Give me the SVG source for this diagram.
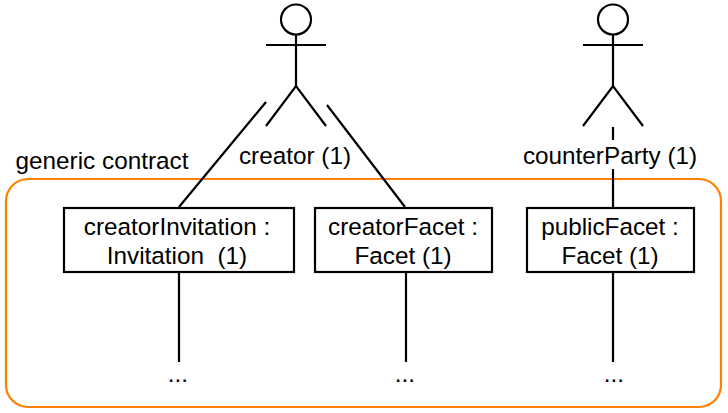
<svg xmlns="http://www.w3.org/2000/svg" width="728" height="413" viewBox="0 0 728 413">
<style>
.l{fill:none;stroke:#000;stroke-width:2.200;stroke-linecap:butt}
.b{fill:#fff;stroke:#000;stroke-width:2.200}
text{font-family:"Liberation Sans",Arial,sans-serif;font-size:24.300px;fill:#000;text-anchor:middle}
</style>
<defs>
<g id="actor">
<circle cx="0" cy="19.500" r="15" class="l"/>
<path class="l" d="M0 35V86M-30 45H30M-30 126L0 86L30 126"/>
</g>
</defs>
<g id="contract">
<rect x="6" y="179" width="715" height="228" rx="22" ry="22" fill="none" stroke="#ff8000" stroke-width="2.200"/>
<text x="102" y="169">generic contract</text>
</g>
<g id="connectors">
<path class="l" d="M266 102L179 207M327 105L405 207M613 127V140M613 169V207M179 272V362M406 272V362M613 272V362"/>
</g>
<g id="creator">
<use href="#actor" x="296" y="0"/>
<text x="295" y="164">creator (1)</text>
</g>
<g id="counterParty">
<use href="#actor" x="613" y="0"/>
<text x="610" y="164">counterParty (1)</text>
</g>
<g id="creatorInvitation">
<rect class="b" x="64" y="208" width="230" height="64"/>
<text x="177" y="235">creatorInvitation :</text>
<text x="177" y="264" xml:space="preserve">Invitation  (1)</text>
</g>
<g id="creatorFacet">
<rect class="b" x="315" y="208" width="177" height="64"/>
<text x="403" y="235">creatorFacet :</text>
<text x="403" y="264">Facet (1)</text>
</g>
<g id="publicFacet">
<rect class="b" x="527" y="208" width="167" height="64"/>
<text x="610" y="235">publicFacet :</text>
<text x="610" y="264">Facet (1)</text>
</g>
<g id="ellipses">
<text x="178" y="382">...</text>
<text x="405" y="382">...</text>
<text x="614" y="382">...</text>
</g>
</svg>
